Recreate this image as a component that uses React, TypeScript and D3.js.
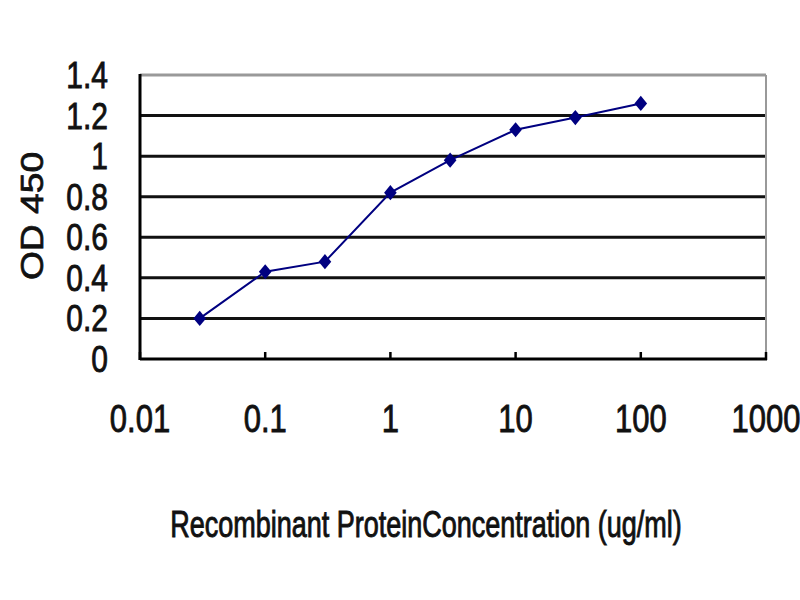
import { scaleLinear, scaleLog, line, symbol, symbolSquare } from 'd3'

// concentration (ug/ml) and OD 450 readings
const concentrations = [0.03, 0.1, 0.3, 1, 3, 10, 30, 100]
const odValues = [0.2, 0.43, 0.48, 0.82, 0.98, 1.13, 1.19, 1.26]

const xTicks = [0.01, 0.1, 1, 10, 100, 1000]
const xTickLabels = ['0.01', '0.1', '1', '10', '100', '1000']
const yTicks = [0, 0.2, 0.4, 0.6, 0.8, 1, 1.2, 1.4]
const yTickLabels = ['0', '0.2', '0.4', '0.6', '0.8', '1', '1.2', '1.4']

const font = '"Liberation Sans", Arial, sans-serif'
// the reference text is thick and a bit blurred
const textStyle = { fill: '#111', stroke: '#111', strokeWidth: 0.7 }

export default function App() {
	const width = 800
	const height = 600
	const plot = { left: 140, right: 766, top: 75, bottom: 359 }

	const x = scaleLog().domain([0.01, 1000]).range([plot.left, plot.right])
	const y = scaleLinear().domain([0, 1.4]).range([plot.bottom, plot.top])

	const points = concentrations.map((c, i) => [x(c), y(odValues[i])] as [number, number])
	const path = line()(points) ?? ''
	const marker = symbol().type(symbolSquare).size(80)() ?? ''

	return (
		<svg
			width={width}
			height={height}
			viewBox={`0 0 ${width} ${height}`}
			style={{ position: 'absolute', left: 0, top: 0, background: '#fff' }}
		>
			<rect x={0} y={0} width={width} height={height} fill="#fff" />

			{/* grid lines */}
			{yTicks
				.filter((t) => t > 0 && t < 1.4)
				.map((t) => (
					<line key={t} x1={plot.left} x2={plot.right} y1={y(t)} y2={y(t)} stroke="#111" strokeWidth={3} />
				))}

			{/* frame: grey top/right, black left/bottom */}
			<line x1={plot.left} x2={plot.right} y1={plot.top} y2={plot.top} stroke="#999" strokeWidth={3} />
			<line x1={plot.right} x2={plot.right} y1={plot.top} y2={plot.bottom} stroke="#999" strokeWidth={2} />
			<line x1={plot.left} x2={plot.left} y1={plot.top - 1} y2={plot.bottom + 1} stroke="#000" strokeWidth={3} />
			<line x1={plot.left} x2={plot.right + 1} y1={plot.bottom} y2={plot.bottom} stroke="#000" strokeWidth={3} />

			{xTicks.map((t) => (
				<line key={t} x1={x(t)} x2={x(t)} y1={plot.bottom - 7} y2={plot.bottom + 1} stroke="#000" strokeWidth={2.5} />
			))}

			{/* y tick labels */}
			{yTicks.map((t, i) => (
				<text
					key={t}
					transform={`translate(108, ${y(t) + 13}) scale(1, 1.25)`}
					textAnchor="end"
					fontFamily={font}
					fontSize={30}
					{...textStyle}
				>
					{yTickLabels[i]}
				</text>
			))}

			{/* x tick labels */}
			{xTicks.map((t, i) => (
				<text
					key={t}
					transform={`translate(${x(t)}, 432) scale(1, 1.25)`}
					textAnchor="middle"
					fontFamily={font}
					fontSize={31}
					{...textStyle}
				>
					{xTickLabels[i]}
				</text>
			))}

			{/* data line and markers */}
			<path d={path} fill="none" stroke="#000080" strokeWidth={2} />
			{points.map(([px, py], i) => (
				<path
					key={concentrations[i]}
					d={marker}
					transform={`translate(${px}, ${py}) scale(1, 1.2) rotate(45)`}
					fill="#000080"
				/>
			))}

			<text
				transform="translate(43, 216) scale(1, 1.2) rotate(-90)"
				textAnchor="middle"
				fontFamily={font}
				fontSize={31}
				{...textStyle}
			>
				OD 450
			</text>

			<text
				transform="translate(426, 537) scale(1, 1.35)"
				textAnchor="middle"
				fontFamily={font}
				fontSize={27}
				{...textStyle}
			>
				Recombinant ProteinConcentration (ug/ml)
			</text>
		</svg>
	)
}
